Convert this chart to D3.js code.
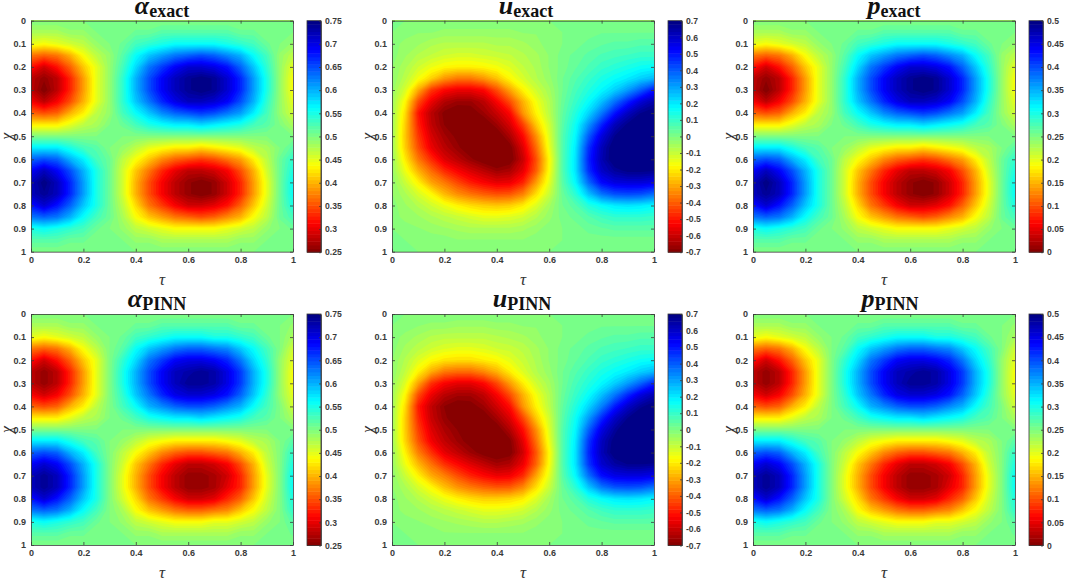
<!DOCTYPE html>
<html>
<head>
<meta charset="utf-8">
<script src="https://cdn.jsdelivr.net/npm/d3@7"></script>
<style>
  html, body { margin: 0; padding: 0; background: #fff; }
  svg { display: block; }
  .axis text { font: bold 9px "Liberation Sans", sans-serif; fill: #3a3a3a; }
  .axis line, .axis path { stroke: #3a3a3a; stroke-width: 0.8; }
  .bar-axis text { font-size: 8.6px; }
</style>
</head>
<body>
<svg id="chart" width="1065" height="580"></svg>
<script>
// values, in hundredths. rows are chi 0..1, columns are tau 0..1 (steps of 0.05)
const alphaExact = [
  [50,50,50,50,50,50,50,50,50,50,50,50,50,50,50,50,50,50,50,50,50],
  [48,48,48,49,49,50,50,50,51,51,52,52,52,52,52,52,51,51,50,50,50],
  [45,44,45,46,47,49,50,51,53,54,55,56,56,56,56,55,54,53,51,50,49],
  [37,36,37,40,44,47,49,52,56,59,61,63,64,65,64,62,60,56,53,49,47],
  [32,29,32,36,41,45,49,53,58,63,66,69,71,71,70,68,64,59,54,49,45],
  [28,26,28,33,39,45,49,54,60,65,69,72,74,75,74,71,67,61,55,49,44],
  [28,25,28,33,39,45,49,54,60,65,69,72,74,75,74,71,67,61,55,49,44],
  [31,28,31,35,40,45,49,54,59,63,67,70,72,72,71,69,65,60,54,49,45],
  [36,35,36,40,43,47,49,53,56,59,62,64,65,66,65,63,61,57,53,49,46],
  [43,43,43,45,47,48,50,51,53,55,56,57,57,58,57,56,55,53,52,50,48],
  [50,50,50,50,50,50,50,50,50,50,50,50,50,50,50,50,50,50,50,50,50],
  [57,57,57,55,53,52,50,49,47,45,44,43,43,42,43,44,45,47,48,50,52],
  [64,65,64,60,57,53,51,47,44,41,38,36,35,34,35,37,39,43,47,51,54],
  [69,72,69,65,60,55,51,46,41,37,33,30,28,28,29,31,35,40,46,51,55],
  [72,75,72,67,61,55,51,46,40,35,31,28,26,25,26,29,33,39,45,51,56],
  [72,74,72,67,61,55,51,46,40,35,31,28,26,25,26,29,33,39,45,51,56],
  [68,71,68,64,59,55,51,47,42,37,34,31,29,29,30,32,36,41,46,51,55],
  [63,64,63,60,56,53,51,48,44,41,39,37,36,35,36,38,40,44,47,51,53],
  [55,56,55,54,53,51,50,49,47,46,45,44,44,44,44,45,46,47,49,50,51],
  [52,52,52,51,51,50,50,50,49,49,48,48,48,48,48,48,49,49,50,50,50],
  [50,50,50,50,50,50,50,50,50,50,50,50,50,50,50,50,50,50,50,50,50]
];
const uExact = [
  [0,0,0,0,0,0,0,0,0,0,0,0,0,0,0,0,0,0,0,0,0],
  [0,-1,-2,-2,-3,-3,-3,-3,-3,-3,-2,-2,-1,0,1,1,2,2,2,2,2],
  [-1,-3,-4,-6,-7,-7,-7,-7,-6,-6,-5,-3,-1,0,1,3,4,5,5,6,6],
  [-1,-4,-7,-9,-11,-12,-12,-11,-10,-9,-7,-5,-2,1,3,5,7,8,9,10,10],
  [-2,-6,-11,-15,-18,-19,-19,-18,-16,-13,-9,-6,-2,1,4,7,10,12,14,16,17],
  [-2,-8,-16,-24,-32,-36,-36,-32,-26,-18,-12,-7,-3,2,6,10,14,17,20,24,27],
  [-3,-12,-29,-45,-52,-55,-55,-52,-42,-30,-19,-11,-5,2,8,13,18,24,31,40,50],
  [-4,-18,-42,-55,-63,-66,-66,-62,-53,-42,-28,-16,-7,3,10,17,26,37,48,58,64],
  [-4,-22,-50,-62,-69,-72,-71,-66,-60,-52,-32,-19,-8,4,13,23,36,50,61,68,71],
  [-4,-24,-48,-61,-68,-72,-74,-72,-66,-58,-44,-25,-11,5,16,32,48,62,69,74,76],
  [-4,-25,-45,-58,-65,-69,-75,-77,-72,-64,-52,-33,-13,6,18,40,57,68,75,79,80],
  [-4,-24,-42,-55,-62,-67,-71,-75,-74,-70,-57,-38,-15,6,20,46,62,72,78,82,83],
  [-3,-20,-36,-47,-57,-62,-67,-71,-74,-71,-60,-42,-18,6,21,48,63,72,76,78,78],
  [-3,-15,-28,-38,-47,-53,-58,-62,-66,-64,-56,-40,-17,6,21,46,60,66,69,69,68],
  [-2,-10,-19,-30,-36,-43,-49,-53,-56,-55,-48,-31,-14,5,18,38,52,57,58,58,56],
  [-2,-6,-12,-18,-27,-33,-37,-40,-42,-41,-35,-22,-10,3,12,26,37,42,43,42,38],
  [-1,-4,-7,-11,-15,-19,-22,-24,-25,-24,-20,-13,-5,2,6,13,17,20,21,20,18],
  [-1,-3,-4,-6,-8,-10,-12,-14,-14,-13,-11,-7,-3,1,3,6,9,11,11,11,10],
  [0,-1,-2,-3,-4,-5,-6,-6,-6,-6,-5,-3,-1,0,1,3,4,5,5,5,5],
  [0,0,-1,-1,-1,-2,-2,-2,-2,-2,-2,-1,-1,0,1,1,1,1,1,1,1],
  [0,0,0,0,0,0,0,0,0,0,0,0,0,0,0,0,0,0,0,0,0]
];
const pExact = [
  [25,25,25,25,25,25,25,25,25,25,25,25,25,25,25,25,25,25,25,25,25],
  [23,23,23,24,24,25,25,25,26,26,27,27,27,27,27,27,26,26,25,25,25],
  [20,19,20,21,22,24,25,26,28,29,30,31,31,31,31,30,29,28,26,25,24],
  [12,11,12,15,19,22,24,27,31,34,36,38,39,40,39,37,35,31,28,24,22],
  [7,4,7,11,16,20,24,28,33,38,41,44,46,46,45,43,39,34,29,24,20],
  [3,1,3,8,14,20,24,29,35,40,44,47,49,50,49,46,42,36,30,24,19],
  [3,0,3,8,14,20,24,29,35,40,44,47,49,50,49,46,42,36,30,24,19],
  [6,3,6,10,15,20,24,29,34,38,42,45,47,47,46,44,40,35,29,24,20],
  [11,10,11,15,18,22,24,28,31,34,37,39,40,41,40,38,36,32,28,24,21],
  [18,18,18,20,22,23,25,26,28,30,31,32,32,33,32,31,30,28,27,25,23],
  [25,25,25,25,25,25,25,25,25,25,25,25,25,25,25,25,25,25,25,25,25],
  [32,32,32,30,28,27,25,24,22,20,19,18,18,17,18,19,20,22,23,25,27],
  [39,40,39,35,32,28,26,22,19,16,13,11,10,9,10,12,14,18,22,26,29],
  [44,47,44,40,35,30,26,21,16,12,8,5,3,3,4,6,10,15,21,26,30],
  [47,50,47,42,36,30,26,21,15,10,6,3,1,0,1,4,8,14,20,26,31],
  [47,49,47,42,36,30,26,21,15,10,6,3,1,0,1,4,8,14,20,26,31],
  [43,46,43,39,34,30,26,22,17,12,9,6,4,4,5,7,11,16,21,26,30],
  [38,39,38,35,31,28,26,23,19,16,14,12,11,10,11,13,15,19,22,26,28],
  [30,31,30,29,28,26,25,24,22,21,20,19,19,19,19,20,21,22,24,25,26],
  [27,27,27,26,26,25,25,25,24,24,23,23,23,23,23,23,24,24,25,25,25],
  [25,25,25,25,25,25,25,25,25,25,25,25,25,25,25,25,25,25,25,25,25]
];
const alphaPinn = [
  [50,50,50,50,50,50,50,50,50,50,50,50,50,50,50,50,50,50,50,50,50],
  [48,48,48,49,49,50,50,50,51,51,52,52,52,52,52,52,51,51,50,50,49],
  [45,44,45,46,47,49,50,51,53,54,55,56,56,56,55,55,54,53,51,50,48],
  [37,36,37,40,44,47,50,52,56,59,61,63,64,64,63,62,59,56,53,50,46],
  [32,29,32,36,41,45,50,54,58,63,66,69,70,70,69,67,63,58,54,49,45],
  [28,26,28,33,39,45,50,55,60,65,69,72,73,74,73,70,66,60,55,49,44],
  [28,26,28,33,39,45,50,55,60,65,69,72,74,74,73,70,66,60,55,49,44],
  [31,29,31,35,40,45,50,54,59,63,67,70,71,71,70,68,64,59,54,49,45],
  [36,35,36,40,43,47,50,53,56,60,62,64,65,65,64,62,60,56,53,50,46],
  [43,43,43,45,47,48,50,51,53,55,56,57,57,58,57,56,55,53,52,50,48],
  [50,50,50,50,50,50,50,50,50,50,50,50,50,50,50,50,50,50,50,50,50],
  [57,57,57,55,53,52,50,49,47,45,44,43,43,43,43,44,45,47,48,50,52],
  [64,65,64,60,57,53,50,47,44,41,38,36,35,35,36,37,40,43,47,50,54],
  [69,71,69,65,60,55,50,46,41,37,33,30,28,28,29,31,35,40,46,50,55],
  [72,74,72,67,61,55,50,45,40,35,31,28,26,26,27,29,33,39,45,50,56],
  [72,74,72,67,61,55,50,45,40,35,31,28,26,26,27,30,33,39,45,50,56],
  [68,71,68,64,59,55,50,46,42,37,34,31,29,29,30,33,36,41,46,50,55],
  [63,64,63,60,56,53,50,48,44,41,39,37,36,36,37,38,41,44,47,50,54],
  [55,56,55,54,53,51,50,49,47,46,45,44,44,44,45,45,46,47,49,50,52],
  [52,52,52,51,51,50,50,50,49,49,48,48,48,48,48,48,49,49,50,50,51],
  [50,50,50,50,50,50,50,50,50,50,50,50,50,50,50,50,50,50,50,50,50]
];
const uPinn = [
  [0,0,0,0,0,0,0,0,0,0,0,0,0,0,0,0,0,0,0,0,0],
  [0,-1,-2,-3,-3,-4,-4,-4,-3,-3,-2,-2,-1,0,1,1,2,2,2,2,2],
  [-1,-3,-5,-7,-8,-8,-8,-8,-7,-6,-5,-3,-1,0,1,3,4,5,5,6,6],
  [-1,-5,-8,-11,-13,-14,-14,-13,-11,-10,-8,-5,-2,1,3,5,7,8,9,10,10],
  [-2,-7,-13,-18,-21,-22,-22,-20,-18,-14,-10,-6,-2,1,4,7,10,12,14,16,17],
  [-2,-9,-19,-29,-36,-38,-38,-34,-28,-20,-13,-7,-3,2,6,10,14,17,20,24,27],
  [-3,-13,-30,-46,-53,-56,-56,-52,-43,-31,-20,-11,-5,2,8,13,18,24,31,39,48],
  [-4,-18,-42,-55,-62,-65,-65,-61,-53,-42,-28,-16,-7,3,10,17,26,36,47,57,63],
  [-4,-22,-49,-61,-68,-71,-70,-66,-59,-51,-32,-19,-8,4,13,23,35,49,60,67,71],
  [-4,-24,-47,-60,-67,-71,-73,-71,-65,-57,-43,-25,-11,5,16,31,47,60,68,74,76],
  [-4,-24,-44,-57,-64,-68,-73,-75,-71,-63,-51,-33,-13,6,18,39,56,66,74,78,79],
  [-4,-23,-41,-54,-61,-66,-70,-73,-73,-69,-56,-37,-15,6,20,45,61,70,77,81,82],
  [-3,-19,-35,-46,-56,-61,-66,-70,-72,-70,-59,-41,-18,6,21,47,62,71,75,77,77],
  [-3,-15,-27,-37,-46,-52,-57,-61,-65,-63,-55,-39,-17,6,21,45,59,65,68,68,67],
  [-2,-10,-19,-29,-35,-42,-48,-52,-55,-54,-47,-30,-14,5,18,37,51,56,57,57,55],
  [-2,-6,-12,-18,-26,-32,-36,-39,-41,-40,-34,-22,-10,3,12,25,36,41,42,41,37],
  [-1,-4,-7,-11,-15,-19,-22,-24,-24,-23,-20,-13,-5,2,6,13,17,20,21,20,18],
  [-1,-3,-4,-6,-8,-10,-12,-14,-14,-13,-11,-7,-3,1,3,6,9,11,11,11,10],
  [0,-1,-2,-3,-4,-5,-6,-7,-7,-6,-5,-3,-1,0,1,3,4,5,5,5,5],
  [0,0,-1,-1,-2,-2,-2,-2,-2,-2,-2,-1,-1,0,1,1,1,1,1,1,1],
  [0,0,0,0,0,0,0,0,0,0,0,0,0,0,0,0,0,0,0,0,0]
];
const pPinn = [
  [25,25,25,25,25,25,25,25,25,25,25,25,25,25,25,25,25,25,25,25,25],
  [23,23,23,24,24,25,25,25,26,26,27,27,27,27,27,27,26,26,25,25,24],
  [20,19,20,21,22,24,25,26,28,29,30,31,31,31,30,30,29,28,26,25,23],
  [12,11,12,15,19,22,25,27,31,34,36,38,39,39,38,37,34,31,28,25,21],
  [7,4,7,11,16,20,25,29,33,38,41,44,45,45,44,42,38,33,29,24,20],
  [3,1,3,8,14,20,25,30,35,40,44,47,48,49,48,45,41,35,30,24,19],
  [3,1,3,8,14,20,25,30,35,40,44,47,49,49,48,45,41,35,30,24,19],
  [6,4,6,10,15,20,25,29,34,38,42,45,46,46,45,43,39,34,29,24,20],
  [11,10,11,15,18,22,25,28,31,35,37,39,40,40,39,37,35,31,28,25,21],
  [18,18,18,20,22,23,25,26,28,30,31,32,32,33,32,31,30,28,27,25,23],
  [25,25,25,25,25,25,25,25,25,25,25,25,25,25,25,25,25,25,25,25,25],
  [32,32,32,30,28,27,25,24,22,20,19,18,18,18,18,19,20,22,23,25,27],
  [39,40,39,35,32,28,25,22,19,16,13,11,10,10,11,12,15,18,22,25,29],
  [44,46,44,40,35,30,25,21,16,12,8,5,3,3,4,6,10,15,21,25,30],
  [47,49,47,42,36,30,25,20,15,10,6,3,1,1,2,4,8,14,20,25,31],
  [47,49,47,42,36,30,25,20,15,10,6,3,1,1,2,5,8,14,20,25,31],
  [43,46,43,39,34,30,25,21,17,12,9,6,4,4,5,8,11,16,21,25,30],
  [38,39,38,35,31,28,25,23,19,16,14,12,11,11,12,13,16,19,22,25,29],
  [30,31,30,29,28,26,25,24,22,21,20,19,19,19,20,20,21,22,24,25,27],
  [27,27,27,26,26,25,25,25,24,24,23,23,23,23,23,23,24,24,25,25,26],
  [25,25,25,25,25,25,25,25,25,25,25,25,25,25,25,25,25,25,25,25,25]
];

const tauTicks = [0, 0.2, 0.4, 0.6, 0.8, 1];
const chiTicks = [0, 0.1, 0.2, 0.3, 0.4, 0.5, 0.6, 0.7, 0.8, 0.9, 1];
const alphaTicks = [0.25, 0.3, 0.35, 0.4, 0.45, 0.5, 0.55, 0.6, 0.65, 0.7, 0.75];
const uTicks = [-0.7, -0.6, -0.5, -0.4, -0.3, -0.2, -0.1, 0, 0.1, 0.2, 0.3, 0.4, 0.5, 0.6, 0.7];
const pTicks = [0, 0.05, 0.1, 0.15, 0.2, 0.25, 0.3, 0.35, 0.4, 0.45, 0.5];

const panels = [
  { grid: alphaExact, ticks: alphaTicks, sym: "α", sub: "exact", col: 0, row: 0, titleX: 162 },
  { grid: uExact, ticks: uTicks, sym: "u", sub: "exact", col: 1, row: 0, titleX: 526 },
  { grid: pExact, ticks: pTicks, sym: "p", sub: "exact", col: 2, row: 0, titleX: 894 },
  { grid: alphaPinn, ticks: alphaTicks, sym: "α", sub: "PINN", col: 0, row: 1, titleX: 157 },
  { grid: uPinn, ticks: uTicks, sym: "u", sub: "PINN", col: 1, row: 1, titleX: 522 },
  { grid: pPinn, ticks: pTicks, sym: "p", sub: "PINN", col: 2, row: 1, titleX: 890 }
];

const colLeft = [31, 392, 753];
const rowTop = [20.7, 314];
const plotW = 262, plotH = 231, barGap = 14, barW = 14;
const levels = 64;

// reversed jet, as the colorbars run dark red -> dark blue
const jet = d3.scaleLinear()
  .domain([0, 0.125, 0.375, 0.5, 0.625, 0.875, 1])
  .range(["#800000", "#ff0000", "#ffff00", "#80ff80", "#00ffff", "#0000ff", "#000080"])
  .clamp(true);

const svg = d3.select("#chart");

panels.forEach((p, i) => {
  const x0 = colLeft[p.col], y0 = rowTop[p.row];
  const values = p.grid.flat().map(v => v / 100);
  const ny = p.grid.length, nx = p.grid[0].length;
  const lo = p.ticks[0], hi = p.ticks[p.ticks.length - 1];
  const step = (hi - lo) / levels;
  const norm = d3.scaleLinear().domain([lo, hi]).range([0, 1]);

  const g = svg.append("g");
  const xScale = d3.scaleLinear().domain([0, 1]).range([x0, x0 + plotW]);
  const yScale = d3.scaleLinear().domain([0, 1]).range([y0, y0 + plotH]);

  // d3.contours puts grid values at cell centres, so map those onto tau / chi
  const tauOf = d3.scaleLinear().domain([0.5, nx - 0.5]).range([0, 1]);
  const chiOf = d3.scaleLinear().domain([0.5, ny - 0.5]).range([0, 1]);
  const path = d3.geoPath(d3.geoTransform({
    point(x, y) { this.stream.point(xScale(tauOf(x)), yScale(chiOf(y))); }
  }));

  const thresholds = d3.range(levels).map(k => lo + k * step);
  thresholds[0] = Math.min(lo, d3.min(values)) - 1;

  g.append("clipPath").attr("id", "clip" + i)
    .append("rect").attr("x", x0).attr("y", y0).attr("width", plotW).attr("height", plotH);

  g.append("g").attr("clip-path", `url(#clip${i})`)
    .selectAll("path")
    .data(d3.contours().size([nx, ny]).thresholds(thresholds)(values))
    .enter()
    .append("path")
    .attr("d", path)
    .attr("fill", (d, k) => jet(norm(lo + (k + 0.5) * step)));

  // axes, with mirrored unlabelled ticks on the top and right
  g.append("g").attr("class", "axis")
    .attr("transform", `translate(0,${y0 + plotH})`)
    .call(d3.axisBottom(xScale).tickValues(tauTicks).tickFormat(String).tickSizeInner(-3).tickSizeOuter(0).tickPadding(5));
  g.append("g").attr("class", "axis")
    .attr("transform", `translate(0,${y0})`)
    .call(d3.axisTop(xScale).tickValues(tauTicks).tickFormat("").tickSizeInner(-3).tickSizeOuter(0));
  g.append("g").attr("class", "axis")
    .attr("transform", `translate(${x0},0)`)
    .call(d3.axisLeft(yScale).tickValues(chiTicks).tickFormat(String).tickSizeInner(-3).tickSizeOuter(0).tickPadding(5));
  g.append("g").attr("class", "axis")
    .attr("transform", `translate(${x0 + plotW},0)`)
    .call(d3.axisRight(yScale).tickValues(chiTicks).tickFormat("").tickSizeInner(-3).tickSizeOuter(0));

  // colorbar
  const barX = x0 + plotW + barGap;
  const barScale = d3.scaleLinear().domain([lo, hi]).range([y0 + plotH + 0.5, y0]);
  g.append("g").selectAll("rect")
    .data(d3.range(levels))
    .enter()
    .append("rect")
    .attr("x", barX)
    .attr("y", k => barScale(lo + (k + 1) * step))
    .attr("width", barW)
    .attr("height", k => barScale(lo + k * step) - barScale(lo + (k + 1) * step) + 0.5)
    .attr("fill", k => jet((k + 0.5) / levels));
  g.append("rect")
    .attr("x", barX).attr("y", y0)
    .attr("width", barW).attr("height", plotH + 0.5)
    .attr("fill", "none").attr("stroke", "#3a3a3a").attr("stroke-width", 0.8);
  g.append("g").attr("class", "axis bar-axis")
    .attr("transform", `translate(${barX + barW},0)`)
    .call(d3.axisRight(barScale).tickValues(p.ticks).tickFormat(String).tickSizeInner(-2).tickSizeOuter(0).tickPadding(4));

  // title and axis labels
  const title = g.append("text")
    .attr("x", p.titleX).attr("y", y0 - 7)
    .attr("text-anchor", "middle")
    .attr("font-family", "'Liberation Serif', serif")
    .attr("font-weight", "bold")
    .attr("fill", "#111");
  title.append("tspan").attr("font-style", "italic").attr("font-size", 26).text(p.sym);
  title.append("tspan").attr("font-size", 18).attr("dy", 3).text(p.sub);

  g.append("text")
    .attr("x", x0 + plotW / 2).attr("y", y0 + plotH + 33)
    .attr("text-anchor", "middle")
    .attr("font-family", "'Liberation Serif', serif")
    .attr("font-style", "italic").attr("font-size", 17).attr("fill", "#333")
    .text("τ");
  g.append("text")
    .attr("transform", `translate(${x0 - 25},${y0 + plotH / 2}) rotate(-90)`)
    .attr("text-anchor", "middle")
    .attr("dominant-baseline", "central")
    .attr("font-family", "'Liberation Serif', serif")
    .attr("font-style", "italic").attr("font-size", 16).attr("fill", "#333")
    .text("χ");
});
</script>
</body>
</html>
